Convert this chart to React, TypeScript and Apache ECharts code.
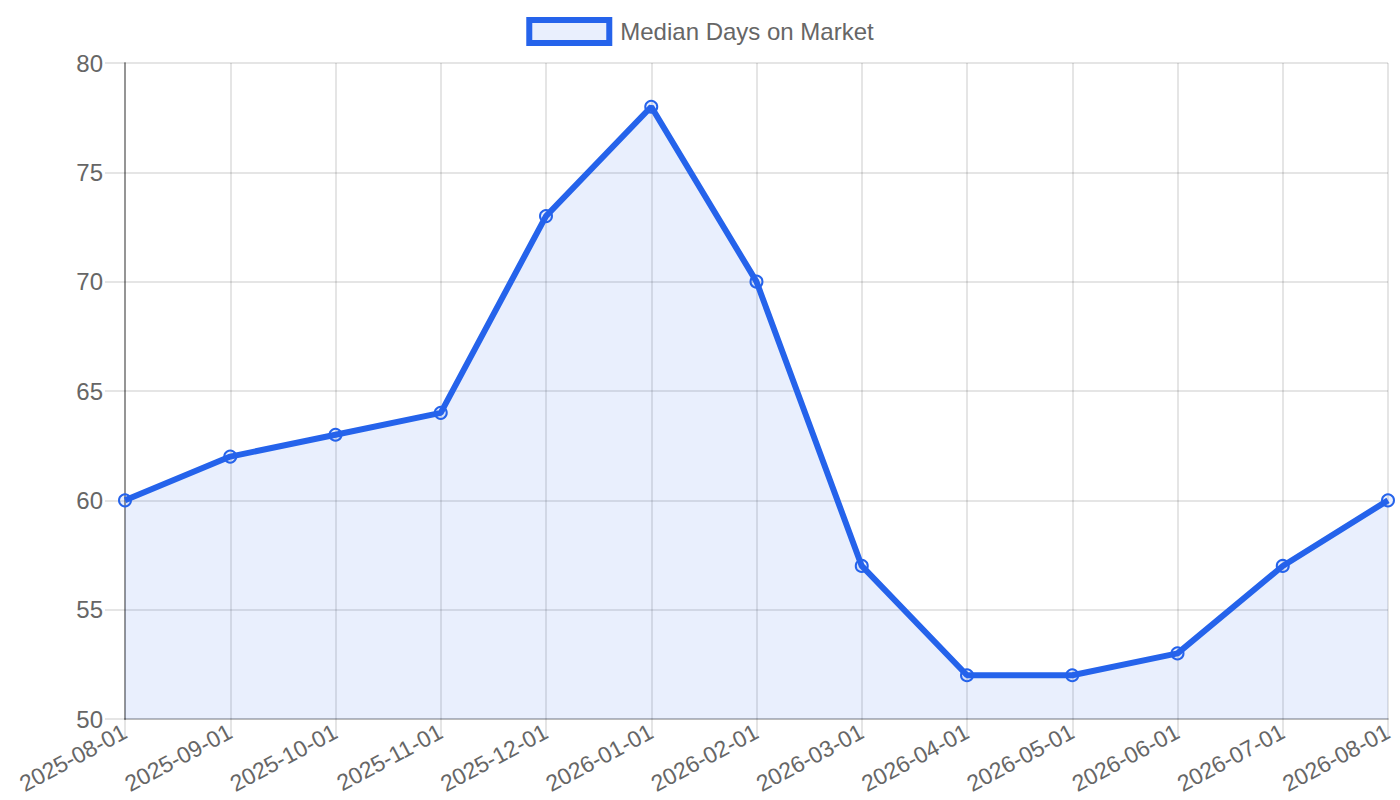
import React, { useEffect, useRef } from 'react';
import * as echarts from 'echarts';

const months = [
  '2025-08-01', '2025-09-01', '2025-10-01', '2025-11-01', '2025-12-01',
  '2026-01-01', '2026-02-01', '2026-03-01', '2026-04-01', '2026-05-01',
  '2026-06-01', '2026-07-01', '2026-08-01',
];
const medianDays = [60, 62, 63, 64, 73, 78, 70, 57, 52, 52, 53, 57, 60];

const BLUE = '#2563eb';
const FILL = 'rgba(37, 99, 235, 0.1)';
const GRID = 'rgba(0, 0, 0, 0.1)';
const FONT = '"Liberation Sans", Arial, Helvetica, sans-serif';

export default function App() {
  const chartRef = useRef<HTMLDivElement>(null);

  useEffect(() => {
    if (!chartRef.current) return;
    const chart = echarts.init(chartRef.current, undefined, { renderer: 'svg' });

    chart.setOption({
      animation: false,
      textStyle: { fontFamily: FONT },
      legend: {
        top: 12,
        left: 'center',
        itemWidth: 80,
        itemHeight: 23,
        itemGap: 10,
        icon: 'rect',
        itemStyle: { color: FILL, borderColor: BLUE, borderWidth: 6 },
        textStyle: { fontSize: 24, color: '#666', fontFamily: FONT, padding: [0, 0, 0, 6] },
        data: ['Median Days on Market'],
      },
      grid: { left: 125, right: 12, top: 63, bottom: 81, outerBoundsMode: 'none' },
      xAxis: {
        type: 'category',
        data: months,
        boundaryGap: false,
        axisLine: { show: true, lineStyle: { color: 'rgba(0,0,0,0.18)', width: 2 } },
        axisTick: { show: true, alignWithLabel: true, length: 18, lineStyle: { color: GRID, width: 2 } },
        axisLabel: {
          rotate: 28,
          interval: 0,
          margin: 11,
          fontSize: 23,
          color: '#666',
          fontFamily: FONT,
        },
        splitLine: { show: true, lineStyle: { color: GRID, width: 2 } },
      },
      yAxis: {
        type: 'value',
        min: 50,
        max: 80,
        interval: 5,
        axisLine: { show: true, lineStyle: { color: 'rgba(0,0,0,0.35)', width: 2 } },
        axisTick: { show: true, length: 20, lineStyle: { color: GRID, width: 2 } },
        axisLabel: { fontSize: 24, color: '#666', margin: 22, fontFamily: FONT },
        splitLine: { show: true, lineStyle: { color: GRID, width: 2 } },
      },
      series: [
        {
          name: 'Median Days on Market',
          type: 'line',
          data: medianDays,
          symbol: 'circle',
          symbolSize: 12,
          lineStyle: { color: BLUE, width: 6 },
          itemStyle: { color: FILL, borderColor: BLUE, borderWidth: 2 },
          areaStyle: { color: FILL, opacity: 1, origin: 'start' },
        },
      ],
    });

    return () => chart.dispose();
  }, []);

  return (
    <div
      ref={chartRef}
      style={{ position: 'absolute', left: 0, top: 0, width: 1400, height: 800 }}
    />
  );
}
